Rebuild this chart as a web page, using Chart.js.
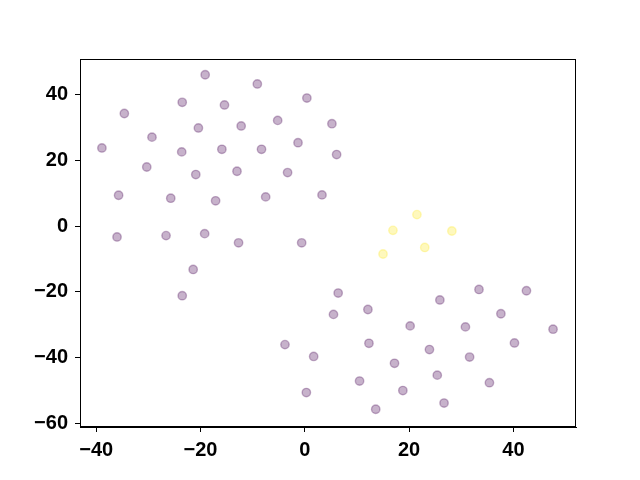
<!DOCTYPE html>
<html>
<head>
<meta charset="utf-8">
<script src="https://cdn.jsdelivr.net/npm/chart.js@4/dist/chart.umd.min.js"></script>
<style>
  html, body { margin: 0; padding: 0; background: #fff; }
</style>
</head>
<body>
<canvas id="myChart" width="640" height="480"></canvas>
<script>
// cluster 0 (purple)
const purpleX = [-19.1, -9.1, 0.4, -23.5, -15.4, -34.6, 5.2, -20.4, -12.2, -5.2,
  -29.3, -38.9, -23.6, -15.9, -8.3, -1.3, 6.1, -30.3, -20.9, -13.0,
  -3.3, -35.7, -25.7, -17.1, -7.5, 3.3, -36.0, -26.6, -19.2, -12.7,
  -0.6, -21.4, -23.5,
  6.4, 33.4, 42.5, 25.9, 5.5, 12.1, 37.6, 20.2, 30.8, 47.6,
  -3.8, 12.3, 40.2, 23.9, 31.6, 1.7, 17.2, 25.4, 35.4, 10.5,
  18.8, 0.3, 26.7, 13.6];
const purpleY = [46.1, 43.3, 39.0, 37.7, 36.9, 34.3, 31.2, 29.9, 30.5, 32.2,
  27.1, 23.8, 22.6, 23.4, 23.4, 25.4, 21.8, 18.0, 15.7, 16.7,
  16.3, 9.4, 8.5, 7.7, 8.9, 9.5, -3.3, -2.9, -2.3, -5.1,
  -5.1, -13.2, -21.2,
  -20.4, -19.3, -19.7, -22.5, -26.9, -25.4, -26.7, -30.4, -30.7, -31.4,
  -36.1, -35.7, -35.6, -37.6, -39.9, -39.7, -41.8, -45.4, -47.7, -47.2,
  -50.1, -50.7, -53.9, -55.8];

// cluster 1 (yellow)
const yellowX = [21.5, 16.9, 28.2, 23.0, 15.0];
const yellowY = [3.5, -1.3, -1.5, -6.5, -8.5];

const xTicks = [-40, -20, 0, 20, 40];
const yTicks = [-60, -40, -20, 0, 20, 40];

function toPoints(xs, ys) {
    return xs.map((x, i) => ({ x: x, y: ys[i] }));
}

const tickFont = { family: '"Liberation Sans", Arial, sans-serif', size: 20, weight: 'bold' };

function fmt(v) {
    return v < 0 ? '\u2212' + Math.abs(v) : String(v);
}

// draw top/right spines too
const frame = {
    id: 'frame',
    afterDraw(chart) {
        const a = chart.chartArea;
        const c = chart.ctx;
        c.save();
        c.strokeStyle = '#000';
        c.lineWidth = 1;
        c.strokeRect(a.left + 0.5, a.top + 0.5, a.right - a.left - 1, a.bottom - a.top - 1);
        c.restore();
    }
};

const ctx = document.getElementById('myChart').getContext('2d');
const myChart = new Chart(ctx, {
    type: 'scatter',
    data: {
        datasets: [{
            label: '0',
            data: toPoints(purpleX, purpleY),
            backgroundColor: 'rgba(68, 1, 84, 0.3)',
            borderColor: 'rgba(68, 1, 84, 0.3)',
            borderWidth: 1.4,
            pointRadius: 4.2,
            pointHoverRadius: 4.2
        }, {
            label: '1',
            data: toPoints(yellowX, yellowY),
            backgroundColor: 'rgba(253, 231, 37, 0.3)',
            borderColor: 'rgba(253, 231, 37, 0.3)',
            borderWidth: 1.4,
            pointRadius: 4.2,
            pointHoverRadius: 4.2
        }]
    },
    options: {
        responsive: false,
        animation: false,
        layout: { padding: { top: 59, right: 64, left: 0, bottom: 0 } },
        plugins: { legend: { display: false }, tooltip: { enabled: false } },
        scales: {
            x: {
                type: 'linear',
                min: -43.1,
                max: 52.0,
                afterBuildTicks: s => { s.ticks = xTicks.map(v => ({ value: v })); },
                afterFit: s => { s.height = 53; },
                grid: { drawOnChartArea: false, drawTicks: true, tickLength: 5, color: '#000' },
                border: { display: true, color: '#000', width: 1 },
                ticks: { color: '#000', font: tickFont, padding: 6, maxRotation: 0, callback: v => fmt(v) }
            },
            y: {
                type: 'linear',
                min: -61.2,
                max: 50.9,
                afterBuildTicks: s => { s.ticks = yTicks.map(v => ({ value: v })); },
                afterFit: s => { s.width = 80; },
                grid: { drawOnChartArea: false, drawTicks: true, tickLength: 5, color: '#000' },
                border: { display: true, color: '#000', width: 1 },
                ticks: { color: '#000', font: tickFont, padding: 7, callback: v => fmt(v) }
            }
        }
    },
    plugins: [frame]
});
</script>
</body>
</html>
